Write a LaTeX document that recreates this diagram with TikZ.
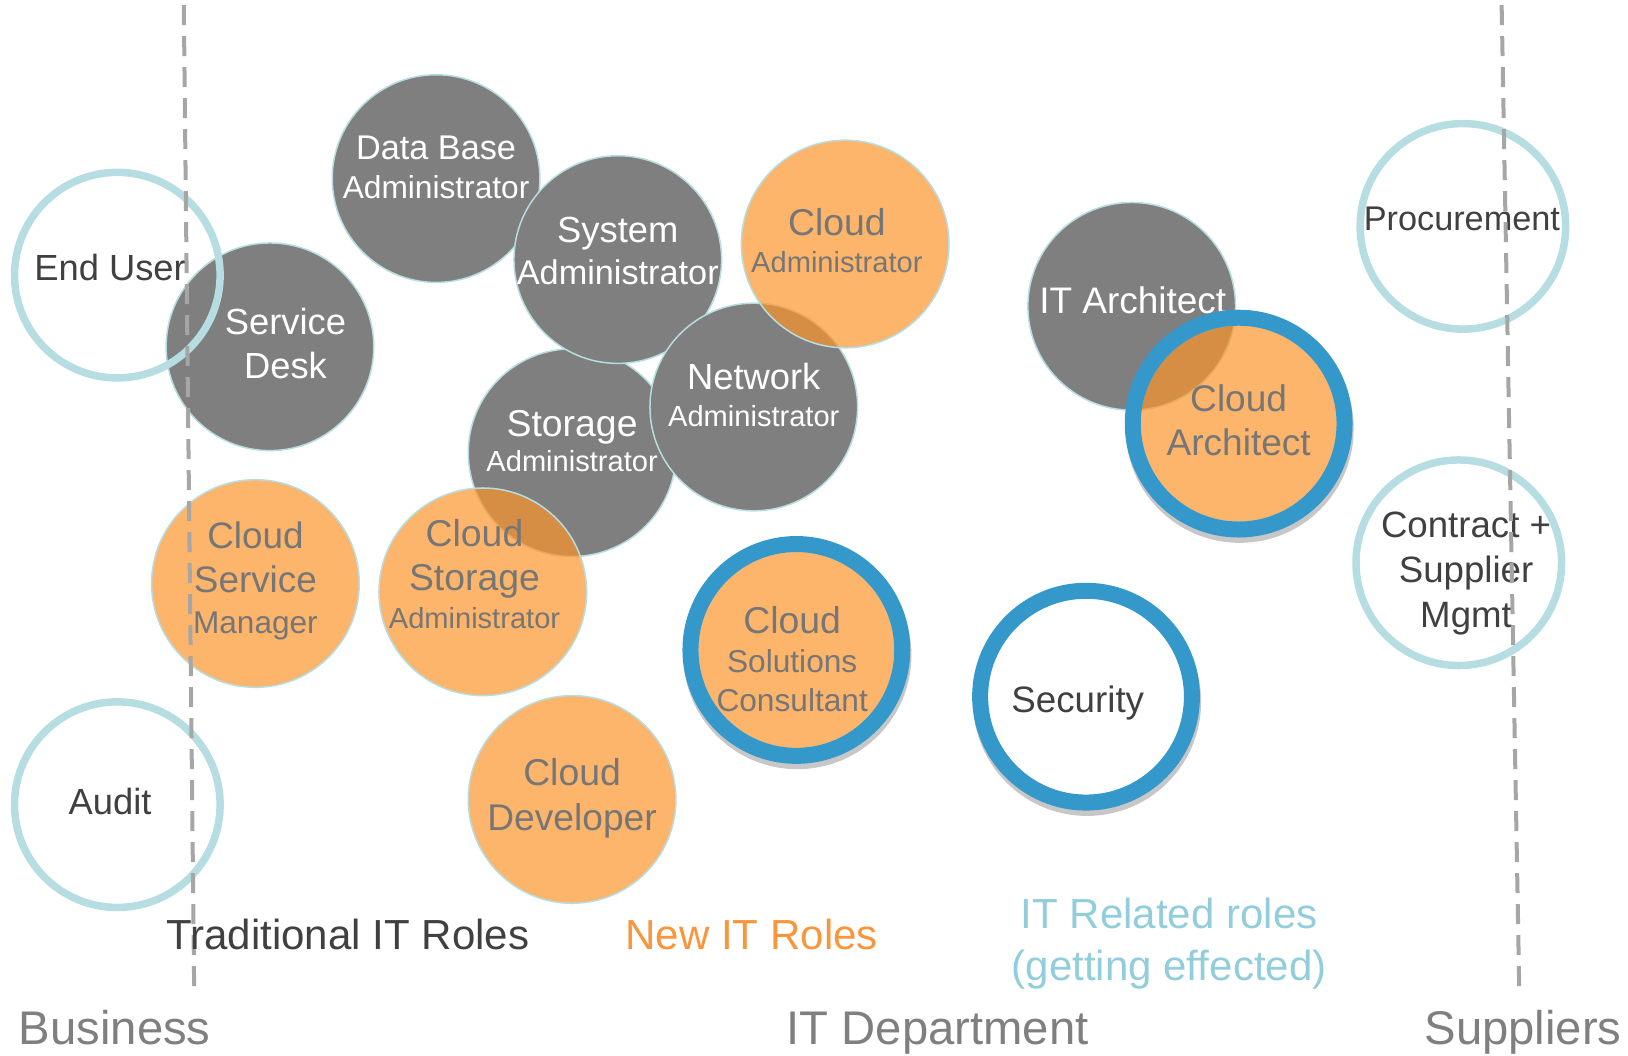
\documentclass[tikz,border=0pt]{standalone}
\usepackage{fontspec}
\setmainfont{Liberation Sans}
\definecolor{cgray}{HTML}{7F7F7F}
\definecolor{cline}{HTML}{B6DDE1}
\definecolor{corange}{HTML}{FC942C}
\definecolor{cblue}{HTML}{3498CA}
\definecolor{cdash}{HTML}{A6A6A6}
\definecolor{cdark}{HTML}{404040}
\definecolor{ctgray}{HTML}{767676}
\definecolor{cnew}{HTML}{F7963C}
\definecolor{crel}{HTML}{92CDDC}
\definecolor{clabel}{HTML}{7F7F7F}
\tikzset{
  fsz/.style={font=\fontsize{#1}{#1}\selectfont},
  graycirc/.style={circle, inner sep=0pt, minimum size=200, fill=cgray, draw=cline, line width=1.5pt},
  orangecirc/.style={circle, inner sep=0pt, minimum size=200, fill=corange, fill opacity=0.7, draw=cline, draw opacity=1, line width=1.5pt},
  orangeinner/.style={circle, inner sep=0pt, minimum size=190, fill=corange, fill opacity=0.7, draw=cline, draw opacity=1, line width=1pt},
  shadowcirc/.style={circle, inner sep=0pt, minimum size=212, draw=black!22, line width=8pt},
  rolering/.style={circle, inner sep=0pt, minimum size=204, draw=cblue, line width=16pt},
  outlinecirc/.style={circle, inner sep=0pt, minimum size=198, draw=cline, line width=7.5pt},
  wtxt/.style={text=white, anchor=base, inner sep=0pt},
  gtxt/.style={text=ctgray, anchor=base, inner sep=0pt},
  dtxt/.style={text=cdark, anchor=base, inner sep=0pt},
  divider/.style={draw=cdash, line width=4pt, dash pattern=on 20pt off 11pt},
}
\begin{document}
\begin{tikzpicture}[x=1pt, y=-1pt, scale=1.03827, every node/.append style={transform shape}]
\useasboundingbox (0,0) rectangle (1568,1017);

% ---- traditional (gray) roles
\node[graycirc] (sd) at (260,334) {};
\node[graycirc] (db) at (420,172) {};
\node[graycirc] (st) at (551,436) {};
\node[graycirc] (sys) at (595,250) {};
\node[graycirc] (net) at (726,392) {};
\node[graycirc] (ita) at (1090,295) {};

\node[wtxt, fsz=35] (sd1) at (275,322.6) {Service};
\node[wtxt, fsz=35] (sd2) at (275,364.6) {Desk};
\node[wtxt, fsz=33] (db1) at (420,154) {Data Base};
\node[wtxt, fsz=30.5] (db2) at (420,191) {Administrator};
\node[wtxt, fsz=35] (sys1) at (595,233.6) {System};
\node[wtxt, fsz=33] (sys2) at (595,274) {Administrator};
\node[wtxt, fsz=35] (net1) at (726,375.6) {Network};
\node[wtxt, fsz=28] (net2) at (726,411) {Administrator};
\node[wtxt, fsz=36] (st1) at (551,420) {Storage};
\node[wtxt, fsz=28] (st2) at (551,454) {Administrator};
\node[wtxt, fsz=35.6] (ita1) at (1091,302) {IT Architect};

% ---- new (orange) roles
\node[orangecirc] (ca) at (814,235) {};
\node[orangecirc] (csm) at (246,562) {};
\node[orangecirc] (csa) at (465,570) {};
\node[orangecirc] (cd) at (551,770) {};

\node[gtxt, fsz=36] (ca1) at (806,227) {Cloud};
\node[gtxt, fsz=28] (ca2) at (806,262) {Administrator};
\node[gtxt, fsz=35.5] (csm1) at (246,528) {Cloud};
\node[gtxt, fsz=35.5] (csm2) at (246,571) {Service};
\node[gtxt, fsz=30.4] (csm3) at (246,610) {Manager};
\node[gtxt, fsz=36] (csa1) at (457,526) {Cloud};
\node[gtxt, fsz=36] (csa2) at (457,569) {Storage};
\node[gtxt, fsz=28] (csa3) at (457,605) {Administrator};
\node[gtxt, fsz=36] (cd1) at (551,757) {Cloud};
\node[gtxt, fsz=35.8] (cd2) at (551,800) {Developer};

% ---- ringed roles
\node[shadowcirc] (csc-s) at (768,631) {};
\node[orangeinner] (csc-f) at (767,626) {};
\node[rolering] (csc) at (767,626) {};
\node[gtxt, fsz=36] (csc1) at (763,610) {Cloud};
\node[gtxt, fsz=30.5] (csc2) at (763,648) {Solutions};
\node[gtxt, fsz=30.5] (csc3) at (763,685) {Consultant};

\node[shadowcirc] (car-s) at (1194,413) {};
\node[orangeinner] (car-f) at (1193,408) {};
\node[rolering] (car) at (1193,408) {};
\node[gtxt, fsz=35.7] (car1) at (1193,396) {Cloud};
\node[gtxt, fsz=35.7] (car2) at (1193,439) {Architect};

\node[shadowcirc] (sec-s) at (1047,676) {};
\node[rolering, fill=white] (sec) at (1046,671) {};
\node[dtxt, fsz=35.4] (sec1) at (1038,686) {Security};

% ---- IT related (outline) roles
\node[outlinecirc] (eu) at (113,265) {};
\node[dtxt, fsz=35] (eu1) at (106,270.6) {End User};
\node[outlinecirc] (au) at (113,775) {};
\node[dtxt, fsz=35] (au1) at (106,784) {Audit};
\node[outlinecirc] (pr) at (1409,218) {};
\node[dtxt, fsz=33] (pr1) at (1408,222) {Procurement};
\node[outlinecirc] (cs) at (1405,542) {};
\node[dtxt, fsz=35.3] (cs1) at (1412,518) {Contract +};
\node[dtxt, fsz=35.3] (cs2) at (1412,561) {Supplier};
\node[dtxt, fsz=35.3] (cs3) at (1412,604) {Mgmt};

% ---- dividers
\coordinate (l1) at (177,5);
\coordinate (l2) at (187,955);
\coordinate (r1) at (1446,5);
\coordinate (r2) at (1463,955);
\draw[divider] (l1) -- (l2);
\draw[divider] (r1) -- (r2);

% ---- legend and zone labels
\node[anchor=base, inner sep=0pt, text=cdark, fsz=40.5] (lt) at (335,914.6) {Traditional IT Roles};
\node[anchor=base, inner sep=0pt, text=cnew, fsz=40.5] (ln) at (724,914.6) {New IT Roles};
\node[anchor=base, inner sep=0pt, text=crel, fsz=40.5] (lr1) at (1126,894.6) {IT Related roles};
\node[anchor=base, inner sep=0pt, text=crel, fsz=40.5] (lr2) at (1126,944.6) {(getting effected)};
\node[anchor=base west, inner sep=0pt, text=clabel, fsz=45.5] (zb) at (18,1006) {Business};
\node[anchor=base, inner sep=0pt, text=clabel, fsz=45.5] (zi) at (903,1006) {IT Department};
\node[anchor=base, inner sep=0pt, text=clabel, fsz=45.5] (zs) at (1467,1006) {Suppliers};
\end{tikzpicture}
\end{document}
